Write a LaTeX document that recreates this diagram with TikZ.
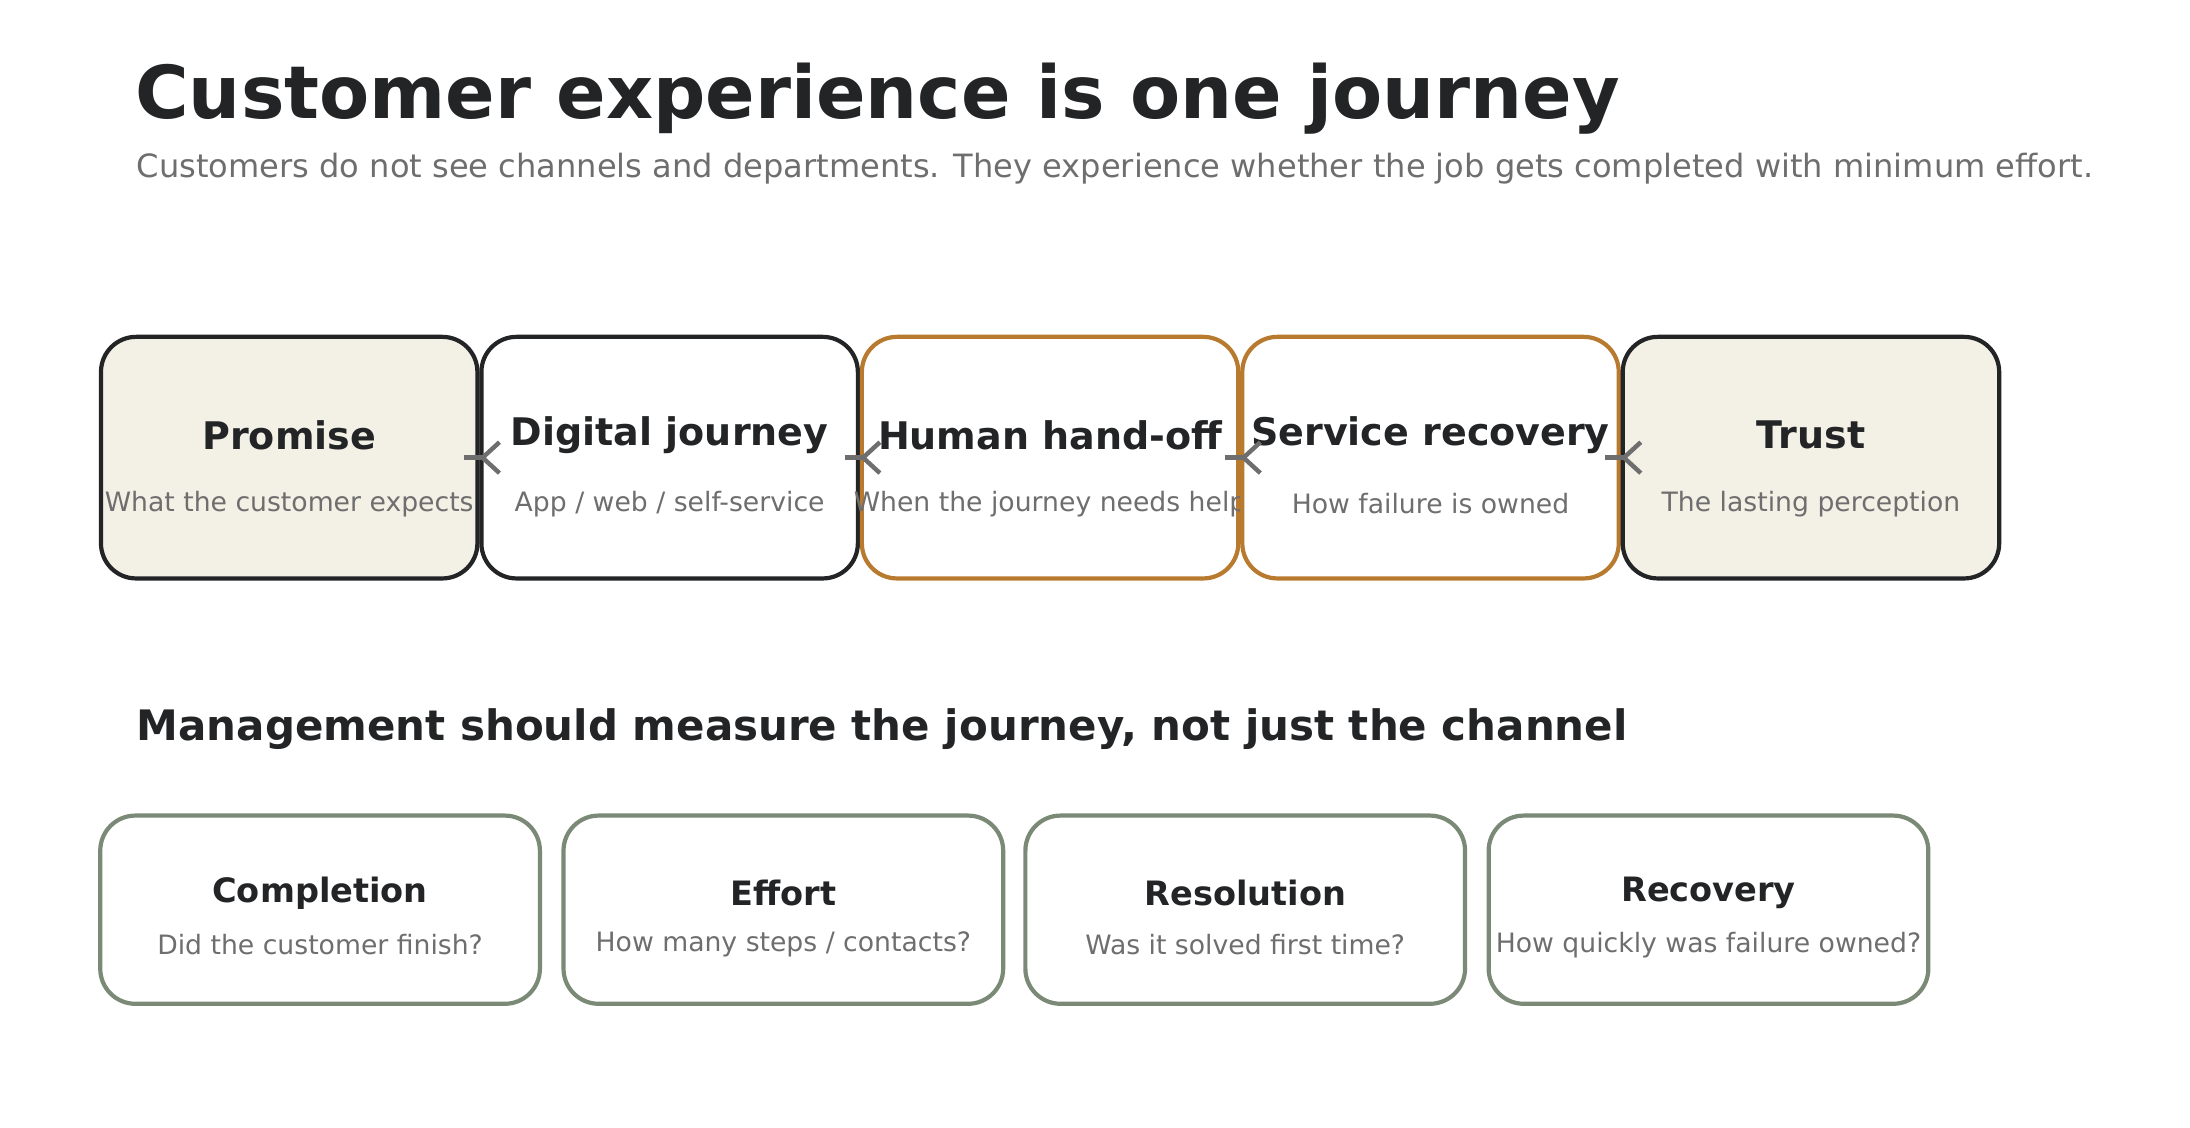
\documentclass[tikz,border=0pt]{standalone}
\usepackage{fontspec}
\setmainfont{DejaVu Sans}
\usetikzlibrary{arrows.meta}
\definecolor{ink}{HTML}{222426}
\definecolor{muted}{HTML}{6E6E6E}
\definecolor{cream}{HTML}{F3F0E6}
\definecolor{amber}{HTML}{B87A2E}
\definecolor{sage}{HTML}{7A8A76}
\begin{document}
\begin{tikzpicture}[x=0.01cm,y=-0.01cm]
   \tikzstyle{stage}=[rectangle, rounded corners=0.25cm, line width=0.85pt, draw=ink,
      minimum width=2.68cm, minimum height=1.72cm]
   \tikzstyle{metric}=[rectangle, rounded corners=0.25cm, line width=0.85pt, draw=sage,
      minimum width=3.13cm, minimum height=1.34cm]
   \tikzstyle{flow}=[-{Straight Barb[length=1.2mm,width=2.2mm]}, muted, line width=0.9pt, shorten <=-1.1mm]
   \useasboundingbox (0,0) rectangle (1560,803.5);
   \node[anchor=west, text=ink, font=\fontsize{14.8}{17}\selectfont\bfseries] (title) at (84,70) {Customer experience is one journey};
   \node[anchor=west, text=muted, font=\fontsize{6.5}{8}\selectfont] (sub) at (85,120) {Customers do not see channels and departments. They experience whether the job gets completed with minimum effort.};
   \foreach \i/\x/\fl/\dr/\name/\desc in {1/206/cream/ink/{Promise}/{What the customer expects},
       2/477/white/ink/{Digital journey}/{App / web / self-service},
       3/748/white/amber/{Human hand-off}/{When the journey needs help},
       4/1019/white/amber/{Service recovery}/{How failure is owned},
       5/1290/cream/ink/{Trust}/{The lasting perception}} {
       \node[stage, fill=\fl, draw=\dr] (s\i) at (\x,326) {};
       \node[text=ink, font=\fontsize{7.7}{9}\selectfont\bfseries] (st\i) at (\x,310) {\name};
       \node[text=muted, font=\fontsize{5.4}{6.5}\selectfont] (sd\i) at (\x,359) {\desc};
   }
   \foreach \a/\b in {1/2,2/3,3/4,4/5} {
       \draw[flow] (s\a) -- (s\b);
   }
   \node[anchor=west, text=ink, font=\fontsize{8.5}{10}\selectfont\bfseries] (mgmt) at (85,519) {Management should measure the journey, not just the channel};
   \foreach \i/\x/\name/\desc in {1/228/{Completion}/{Did the customer finish?},
       2/558/{Effort}/{How many steps / contacts?},
       3/887/{Resolution}/{Was it solved first time?},
       4/1217/{Recovery}/{How quickly was failure owned?}} {
       \node[metric] (m\i) at (\x,648) {};
       \node[text=ink, font=\fontsize{6.8}{8}\selectfont\bfseries] (mt\i) at (\x,636) {\name};
       \node[text=muted, font=\fontsize{5.4}{6.5}\selectfont] (md\i) at (\x,673) {\desc};
   }
\end{tikzpicture}
\end{document}
